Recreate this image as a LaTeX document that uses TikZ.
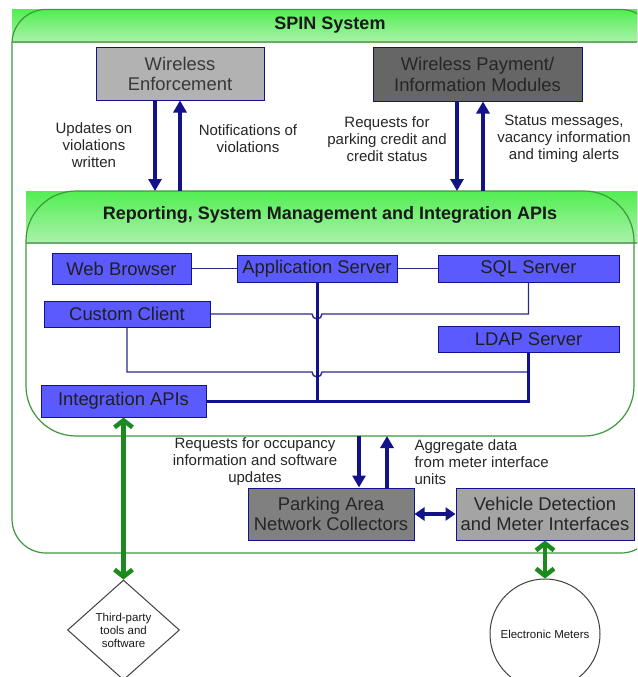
\documentclass[tikz,border=0pt]{standalone}
\usepackage{fontspec}
\setmainfont{Liberation Sans}
\usetikzlibrary{arrows.meta,shapes.geometric}

\definecolor{navy}{HTML}{12128A}
\definecolor{linknavy}{HTML}{2A2A8C}
\definecolor{boxblue}{HTML}{5A5AFF}
\definecolor{framegreen}{HTML}{3E983E}
\definecolor{sepgreen}{HTML}{6AAA6A}
\definecolor{hdtop}{HTML}{52EE52}
\definecolor{hdbot}{HTML}{AAF2AA}
\definecolor{linkgreen}{HTML}{1C8A1C}
\definecolor{lightgray}{HTML}{B2B2B2}
\definecolor{midgray}{HTML}{A4A4A4}
\definecolor{darkgray}{HTML}{666666}
\definecolor{collgray}{HTML}{808080}

\tikzset{
  x=1pt, y=-1pt,
  boxfont/.style={font=\fontsize{18.4}{20.5}\selectfont},
  labelfont/.style={font=\fontsize{15}{17}\selectfont, text=black!85, align=center},
  tinyfont/.style={font=\fontsize{11.5}{13}\selectfont, text=black!90, align=center},
  titlefont/.style={font=\bfseries\fontsize{18}{21}\selectfont, text=black!90},
  unitbox/.style={draw=navy, line width=1pt, inner sep=0pt, align=center, boxfont, text=black!80},
  bluebox/.style={draw=navy, fill=boxblue, line width=1pt, inner sep=0pt, boxfont, text=black!88},
  frameline/.style={draw=framegreen, line width=1.2pt},
  sepline/.style={draw=sepgreen, line width=1.5pt},
  header/.style={top color=hdtop, bottom color=hdbot},
  flow/.style={draw=navy, line width=3.2pt, -{Triangle[width=13pt,length=12pt]}},
  flowboth/.style={draw=navy, line width=3.2pt, {Triangle[width=13pt,length=10pt]}-{Triangle[width=13pt,length=10pt]}},
  thinlink/.style={draw=linknavy, line width=1.4pt},
  thicklink/.style={draw=navy, line width=3pt},
  greenlink/.style={draw=linkgreen, line width=4.5pt,
    {Straight Barb[length=7pt,width=18pt]}-{Straight Barb[length=7pt,width=18pt]}},
}

\begin{document}
\begin{tikzpicture}
\useasboundingbox (0,0) rectangle (637,677);
\clip (0,0) rectangle (637,677);
\fill[white] (0,0) rectangle (637,677);

% SPIN System frame
\fill[header] (12,9.5) rectangle (660,42);
\draw[sepline] (12,42) -- (660,42);
\draw[frameline, rounded corners=34pt] (12,300) |- (655,9.5) |- (12,553) -- cycle;
\node[titlefont] (spin) at (330,25) {SPIN System};

% Reporting / management frame
\fill[header] (26,191) rectangle (660,243);
\draw[sepline] (26,243) -- (660,243);
\draw[frameline, rounded corners=50pt] (26,300) |- (634,191) |- (26,436) -- cycle;
\node[titlefont] (rsm) at (330,215) {Reporting, System Management and Integration APIs};
\coordinate (rtop) at (0,191);
\coordinate (rbot) at (0,436);

% Field units
\node[unitbox, fill=lightgray, minimum width=168pt, minimum height=52pt, text=black!78]
  (we) at (180,74) {Wireless\\Enforcement};
\node[unitbox, fill=darkgray, minimum width=209pt, minimum height=53pt, text=black!85]
  (wp) at (477.5,74.5) {Wireless Payment/\\Information Modules};
\node[unitbox, fill=collgray, minimum width=166pt, minimum height=52pt, text=black!85]
  (panc) at (331,514) {Parking Area\\Network Collectors};
\node[unitbox, fill=midgray, minimum width=178pt, minimum height=52pt, text=black!85]
  (vd) at (545,514) {Vehicle Detection\\and Meter Interfaces};

% Management components
\node[bluebox, minimum width=139pt, minimum height=31pt] (wb) at (121.5,268.5) {Web Browser};
\node[bluebox, minimum width=160pt, minimum height=27pt] (app) at (317,268.5) {Application Server};
\node[bluebox, minimum width=181pt, minimum height=27pt] (sql) at (528.5,268.5) {SQL Server};
\node[bluebox, minimum width=166pt, minimum height=26pt] (cc) at (127,314) {Custom Client};
\node[bluebox, minimum width=181pt, minimum height=26pt] (ldap) at (528.5,339) {LDAP Server};
\node[bluebox, minimum width=165pt, minimum height=32pt] (api) at (123.5,401) {Integration APIs};

% External parties
\node[diamond, draw=black!75, line width=1pt, fill=white, minimum width=112pt,
  minimum height=100pt, inner sep=0pt, tinyfont] (tp) at (123.5,630) {Third-party\\tools and\\software};
\node[circle, draw=black!75, line width=1pt, fill=white, minimum size=110pt,
  inner sep=0pt, tinyfont] (em) at (545,634) {Electronic Meters};

% Links between management components
\draw[thinlink] (wb.east) -- (app.west);
\draw[thinlink] (app.east) -- (sql.west);
\draw[thinlink] (cc.east) -- ([xshift=-5pt]cc.east -| app.south)
  arc[start angle=180, end angle=360, radius=5pt] -- (cc.east -| sql.south) -- (sql.south);
\coordinate (ccbus) at (0,372);
\draw[thinlink] (cc.south) -- (cc.south |- ccbus) -- ([xshift=-5pt]ccbus -| app.south)
  arc[start angle=180, end angle=360, radius=5pt] -- (ccbus -| ldap.south);
\draw[thicklink] (app.south) -- (app.south |- api.east);
\draw[thicklink] (api.east) -- (api.east -| ldap.south) -- (ldap.south);

% Data flows
\draw[flow] ([xshift=-25pt]we.south) -- ([xshift=-25pt]we.south |- rtop);
\draw[flow] ([xshift=0pt]we.south |- rtop) -- ([xshift=0pt]we.south);
\draw[flow] ([xshift=-20.5pt]wp.south) -- ([xshift=-20.5pt]wp.south |- rtop);
\draw[flow] ([xshift=5.5pt]wp.south |- rtop) -- ([xshift=5.5pt]wp.south);
\draw[flow] ([xshift=28pt]panc.north |- rbot) -- ([xshift=28pt]panc.north);
\draw[flow] ([xshift=56pt]panc.north) -- ([xshift=56pt]panc.north |- rbot);
\draw[flowboth] (panc.east) -- (vd.west);
\draw[greenlink] (api.south) -- (tp.north);
\draw[greenlink] (vd.south) -- (vd.south |- em.north);

% Flow labels
\node[labelfont] (l1) at (94,145) {Updates on\\violations\\written};
\node[labelfont] (l2) at (248,138.5) {Notifications of\\violations};
\node[labelfont] (l3) at (387,139) {Requests for\\parking credit and\\credit status};
\node[labelfont] (l4) at (564,139) {Status messages,\\vacancy information\\and timing alerts};
\node[labelfont] (l5) at (255,462) {Requests for occupancy\\information and software\\updates};
\node[labelfont, align=left, anchor=west] (l6) at (411,462) {Aggregate data\\from meter interface\\units};
\end{tikzpicture}
\end{document}
